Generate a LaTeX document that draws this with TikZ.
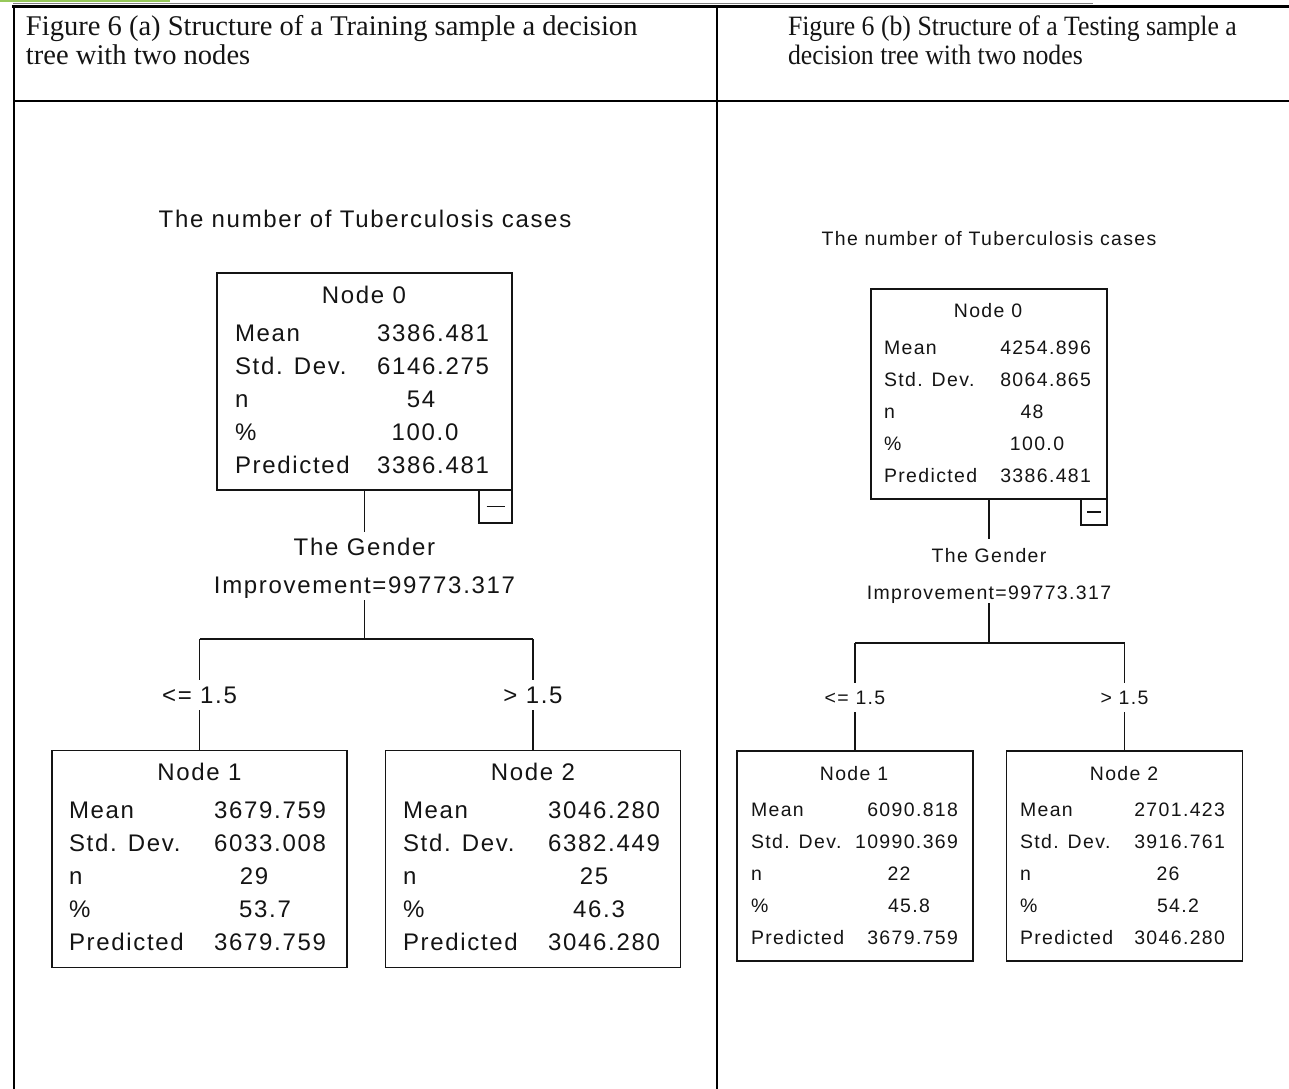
\documentclass[tikz,border=0pt]{standalone}
\usepackage{fontspec}
\setmainfont{Liberation Serif}
\newfontfamily\hdrB[FakeStretch=0.92]{Liberation Serif}
\newfontfamily\trfont[LetterSpace=7]{Liberation Sans}
\definecolor{logogreen}{RGB}{150,200,90}
\definecolor{ink}{RGB}{20,20,20}
\begin{document}
\begin{tikzpicture}[x=0.75pt,y=-0.75pt,
  every node/.style={inner sep=0pt, outer sep=0pt, text=ink},
  hdr/.style={font=\fontsize{21.4}{24}\selectfont, anchor=base west},
  hdrb/.style={font=\fontsize{21}{24}\selectfont\hdrB, anchor=base west},
  txtA/.style={font=\fontsize{18}{21}\selectfont\trfont, text height=12.9pt, text depth=0pt},
  txtB/.style={font=\fontsize{14.6}{17}\selectfont\trfont, text height=10.5pt, text depth=0pt},
  boxA/.style={draw=ink, line width=1.4pt, minimum width=221.25pt, minimum height=162.75pt},
  boxB/.style={draw=ink, line width=1.3pt, minimum width=177pt, minimum height=157.5pt},
  minA/.style={draw=ink, line width=1.4pt, minimum size=24.75pt, anchor=north east},
  minB/.style={draw=ink, line width=1.3pt, minimum size=19.5pt, anchor=north east},
  conn/.style={draw=ink, line width=1.4pt},
  connB/.style={draw=ink, line width=1.3pt},
  rule/.style={draw=black}
]
\useasboundingbox (0,0) rectangle (1289,1089);

% page remnants and table
\fill[logogreen] (0,0) rectangle (170,2.2);
\draw[rule, gray, line width=0.7pt] (13,3) -- (1093,3);
\draw[rule, line width=1.8pt] (12,6.5) -- (1289,6.5);
\draw[rule, line width=1.8pt] (14,6) -- (14,1089);
\draw[rule, line width=1.1pt] (14,101) -- (1289,101);
\draw[rule, line width=1.5pt] (717,6) -- (717,101);
\draw[rule, line width=0.9pt] (717,101) -- (717,1055);
\draw[rule, line width=1.8pt] (717,1055) -- (717,1089);

% headers
\node[hdr] (h1a) at (26,35) {Figure 6 (a) Structure of a Training sample a decision};
\node[hdr] (h1b) at (26,64) {tree with two nodes};
\node[hdrb] (h2a) at (788,35) {Figure 6 (b) Structure of a Testing sample a};
\node[hdrb] (h2b) at (788,64) {decision tree with two nodes};

% ================= tree (a) =================
\node[txtA] (atitle) at (365,219) {The number of Tuberculosis cases};

\node[boxA] (a0) at (364.5,381.5) {};
\node[minA] (am) at (a0.south east) {};
\draw[conn] ([xshift=-6.75pt]am.center) -- ([xshift=6.75pt]am.center);
\node[txtA] (a0t) at (364,295) {Node 0};
\node[txtA, anchor=west] (a0l1) at (235,333) {Mean};
\node[txtA, anchor=west] (a0l2) at (235,366) {Std. Dev.};
\node[txtA, anchor=west] (a0l3) at (235,399) {n};
\node[txtA, anchor=west] (a0l4) at (235,432) {\%};
\node[txtA, anchor=west] (a0l5) at (235,465) {Predicted};
\node[txtA, anchor=east] (a0v1) at (489,333) {3386.481};
\node[txtA, anchor=east] (a0v2) at (489,366) {6146.275};
\node[txtA] (a0v3) at (421,399) {54};
\node[txtA] (a0v4) at (425,432) {100.0};
\node[txtA, anchor=east] (a0v5) at (489,465) {3386.481};

\node[txtA, minimum height=22.5pt] (agen) at (364.5,547) {The Gender};
\node[txtA, minimum height=22.5pt] (aimp) at (364.5,585) {Improvement=99773.317};
\coordinate (abar) at (364.5,639);
\coordinate (abarL) at (199.5,639);
\coordinate (abarR) at (533,639);
\node[txtA, minimum height=22.5pt] (alab1) at (199.5,695) {<= 1.5};
\node[txtA, minimum height=22.5pt] (alab2) at (533,695) {> 1.5};

\node[boxA] (a1) at (199.5,859) {};
\node[boxA] (a2) at (533,859) {};

\draw[conn] (a0.south) -- (agen.north);
\draw[conn] (aimp.south) -- (abar);
\draw[conn] (abarL) -- (abarR);
\draw[conn] (abarL) -- (alab1.north);
\draw[conn] (abarR) -- (alab2.north);
\draw[conn] (alab1.south) -- (a1.north);
\draw[conn] (alab2.south) -- (a2.north);

\node[txtA] (a1t) at (199.5,772) {Node 1};
\node[txtA, anchor=west] (a1l1) at (69,810) {Mean};
\node[txtA, anchor=west] (a1l2) at (69,843) {Std. Dev.};
\node[txtA, anchor=west] (a1l3) at (69,876) {n};
\node[txtA, anchor=west] (a1l4) at (69,909) {\%};
\node[txtA, anchor=west] (a1l5) at (69,942) {Predicted};
\node[txtA, anchor=east] (a1v1) at (326,810) {3679.759};
\node[txtA, anchor=east] (a1v2) at (326,843) {6033.008};
\node[txtA] (a1v3) at (254,876) {29};
\node[txtA] (a1v4) at (265,909) {53.7};
\node[txtA, anchor=east] (a1v5) at (326,942) {3679.759};

\node[txtA] (a2t) at (533,772) {Node 2};
\node[txtA, anchor=west] (a2l1) at (403,810) {Mean};
\node[txtA, anchor=west] (a2l2) at (403,843) {Std. Dev.};
\node[txtA, anchor=west] (a2l3) at (403,876) {n};
\node[txtA, anchor=west] (a2l4) at (403,909) {\%};
\node[txtA, anchor=west] (a2l5) at (403,942) {Predicted};
\node[txtA, anchor=east] (a2v1) at (660,810) {3046.280};
\node[txtA, anchor=east] (a2v2) at (660,843) {6382.449};
\node[txtA] (a2v3) at (594,876) {25};
\node[txtA] (a2v4) at (599,909) {46.3};
\node[txtA, anchor=east] (a2v5) at (660,942) {3046.280};

% ================= tree (b) =================
\node[txtB] (btitle) at (989,238) {The number of Tuberculosis cases};

\node[boxB] (b0) at (989,394) {};
\node[minB] (bm) at (b0.south east) {};
\draw[connB] ([xshift=-5.25pt]bm.center) -- ([xshift=5.25pt]bm.center);
\node[txtB] (b0t) at (988,310) {Node 0};
\node[txtB, anchor=west] (b0l1) at (884,347) {Mean};
\node[txtB, anchor=west] (b0l2) at (884,379) {Std. Dev.};
\node[txtB, anchor=west] (b0l3) at (884,411) {n};
\node[txtB, anchor=west] (b0l4) at (884,443) {\%};
\node[txtB, anchor=west] (b0l5) at (884,475) {Predicted};
\node[txtB, anchor=east] (b0v1) at (1091,347) {4254.896};
\node[txtB, anchor=east] (b0v2) at (1091,379) {8064.865};
\node[txtB] (b0v3) at (1032,411) {48};
\node[txtB] (b0v4) at (1037,443) {100.0};
\node[txtB, anchor=east] (b0v5) at (1091,475) {3386.481};

\node[txtB, minimum height=24pt, anchor=north] (bgen) at (989,539) {The Gender};
\node[txtB, minimum height=16.5pt, anchor=south] (bimp) at (989,603) {Improvement=99773.317};
\coordinate (bbar) at (989,643);
\coordinate (bbarL) at (855,643);
\coordinate (bbarR) at (1124.5,643);
\node[txtB, minimum height=21.75pt] (blab1) at (855,697.5) {<= 1.5};
\node[txtB, minimum height=21.75pt] (blab2) at (1124.5,697.5) {> 1.5};

\node[boxB] (b1) at (855,856) {};
\node[boxB] (b2) at (1124.5,856) {};

\draw[connB] (b0.south) -- (bgen.north);
\draw[connB] (bimp.south) -- (bbar);
\draw[connB] (bbarL) -- (bbarR);
\draw[connB] (bbarL) -- (blab1.north);
\draw[connB] (bbarR) -- (blab2.north);
\draw[connB] (blab1.south) -- (b1.north);
\draw[connB] (blab2.south) -- (b2.north);

\node[txtB] (b1t) at (854,773) {Node 1};
\node[txtB, anchor=west] (b1l1) at (751,809) {Mean};
\node[txtB, anchor=west] (b1l2) at (751,841) {Std. Dev.};
\node[txtB, anchor=west] (b1l3) at (751,873) {n};
\node[txtB, anchor=west] (b1l4) at (751,905) {\%};
\node[txtB, anchor=west] (b1l5) at (751,937) {Predicted};
\node[txtB, anchor=east] (b1v1) at (958,809) {6090.818};
\node[txtB, anchor=east] (b1v2) at (958,841) {10990.369};
\node[txtB] (b1v3) at (899,873) {22};
\node[txtB] (b1v4) at (909,905) {45.8};
\node[txtB, anchor=east] (b1v5) at (958,937) {3679.759};

\node[txtB] (b2t) at (1124,773) {Node 2};
\node[txtB, anchor=west] (b2l1) at (1020,809) {Mean};
\node[txtB, anchor=west] (b2l2) at (1020,841) {Std. Dev.};
\node[txtB, anchor=west] (b2l3) at (1020,873) {n};
\node[txtB, anchor=west] (b2l4) at (1020,905) {\%};
\node[txtB, anchor=west] (b2l5) at (1020,937) {Predicted};
\node[txtB, anchor=east] (b2v1) at (1225,809) {2701.423};
\node[txtB, anchor=east] (b2v2) at (1225,841) {3916.761};
\node[txtB] (b2v3) at (1168,873) {26};
\node[txtB] (b2v4) at (1178,905) {54.2};
\node[txtB, anchor=east] (b2v5) at (1225,937) {3046.280};
\end{tikzpicture}
\end{document}
